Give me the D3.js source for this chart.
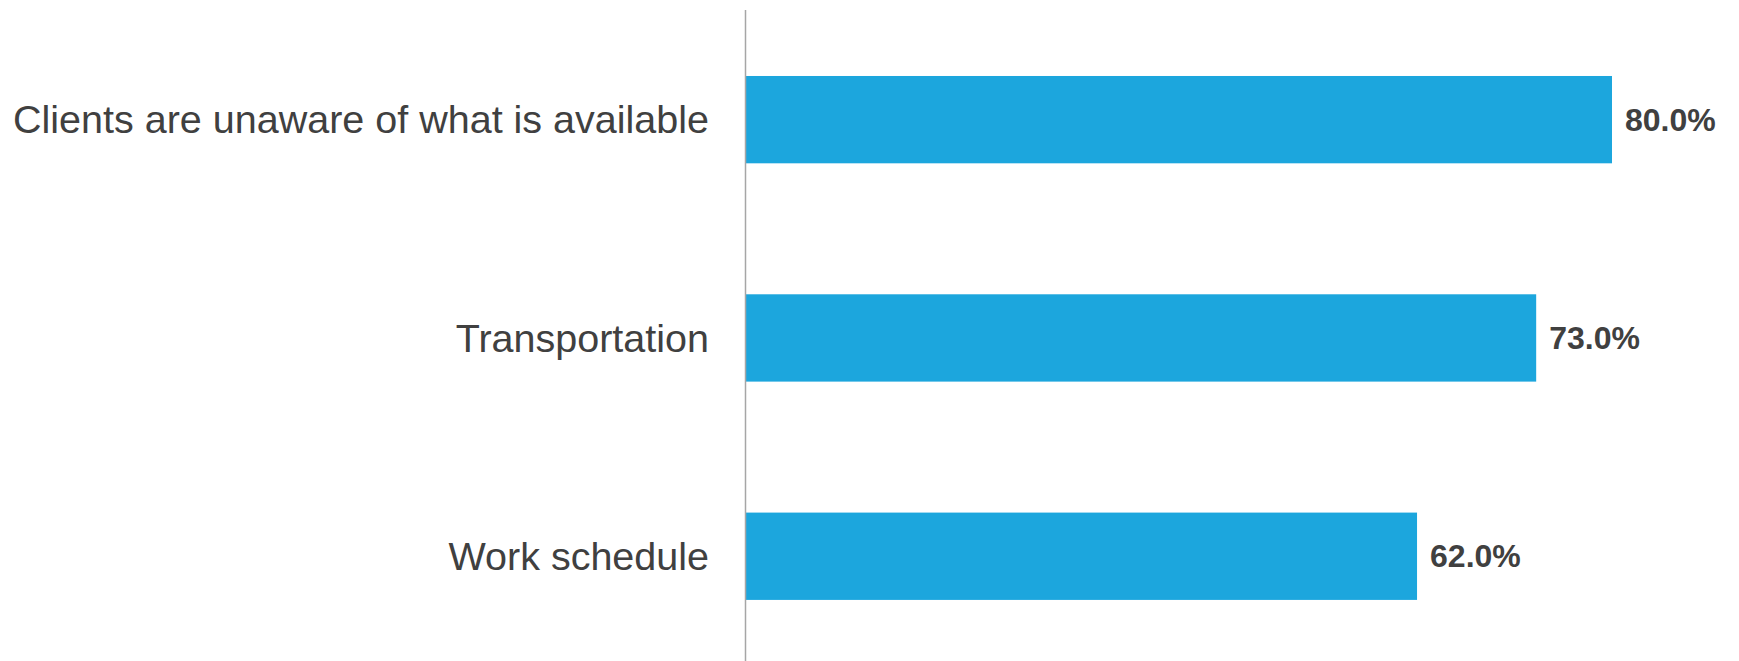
<!DOCTYPE html>
<html>
<head>
<meta charset="utf-8">
<script src="https://cdn.jsdelivr.net/npm/d3@7"></script>
<style>
  html, body { margin: 0; padding: 0; background: #fff; }
  svg { display: block; }
</style>
</head>
<body>
<svg id="chart" width="1739" height="661"></svg>
<script>
const categories = ["Clients are unaware of what is available", "Transportation", "Work schedule"];
const values = [80.0, 73.0, 62.0];
const valueLabels = ["80.0%", "73.0%", "62.0%"];

const svg = d3.select("#chart");
const axisX = 745.5;

const x = d3.scaleLinear().domain([0, 80]).range([axisX, 1612]);
const y = d3.scaleBand().domain(categories).range([10.5, 665.4]).paddingInner(0.6).paddingOuter(0.3);

svg.selectAll("rect.bar")
  .data(categories)
  .join("rect")
  .attr("class", "bar")
  .attr("x", x(0))
  .attr("y", d => y(d))
  .attr("width", (d, i) => x(values[i]) - x(0))
  .attr("height", y.bandwidth())
  .attr("fill", "#1CA6DD");

svg.append("line")
  .attr("x1", axisX).attr("x2", axisX)
  .attr("y1", 10).attr("y2", 661)
  .attr("stroke", "#A6A6A6")
  .attr("stroke-width", 1.5);

svg.selectAll("text.cat")
  .data(categories)
  .join("text")
  .attr("class", "cat")
  .attr("x", 709)
  .attr("y", d => y(d) + y.bandwidth() / 2)
  .attr("dy", "0.35em")
  .attr("text-anchor", "end")
  .attr("font-family", "Liberation Sans, Arial, sans-serif")
  .attr("font-size", 39.5)
  .attr("fill", "#404040")
  .text(d => d);

svg.selectAll("text.val")
  .data(categories)
  .join("text")
  .attr("class", "val")
  .attr("x", (d, i) => x(values[i]) + 13)
  .attr("y", d => y(d) + y.bandwidth() / 2)
  .attr("dy", "0.35em")
  .attr("font-family", "Liberation Sans, Arial, sans-serif")
  .attr("font-weight", "bold")
  .attr("font-size", 32)
  .attr("fill", "#404040")
  .text((d, i) => valueLabels[i]);
</script>
</body>
</html>
